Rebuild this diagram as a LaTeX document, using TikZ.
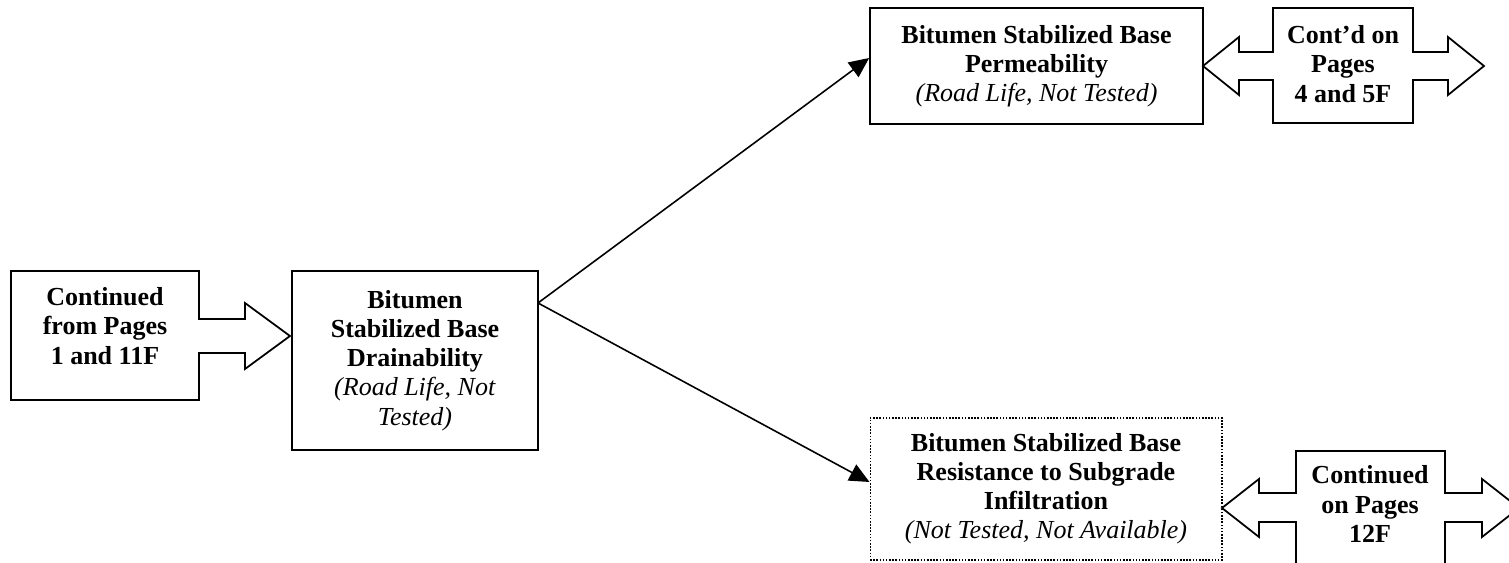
\documentclass[tikz,border=0pt]{standalone}
\usepackage{fontspec}
\setmainfont{Liberation Serif}
\usetikzlibrary{arrows.meta}
\begin{document}
\begin{tikzpicture}[x=0.02cm,y=-0.02cm,
  txt/.style={align=center,inner sep=0pt,font=\fontsize{14.8pt}{16.6pt}\selectfont\bfseries},
  box/.style={txt,draw,line width=1pt,rectangle},
  dotbox/.style={txt,draw,line width=0.6pt,dash pattern=on 0.9pt off 0.9pt},
  outline/.style={draw,line width=1pt,line join=miter},
  link/.style={line width=0.9pt,-{Triangle[length=0.4cm,width=0.36cm]}}]
\useasboundingbox (0,0) rectangle (1509,563);
\clip (0,0) rectangle (1509,563);

% incoming page reference: box with a right-pointing arrow
\draw[outline] (11,271) -- (199,271) -- (199,319) -- (245,319) -- (245,303)
  -- (290,336) -- (245,369) -- (245,353) -- (199,353) -- (199,400)
  -- (11,400) -- cycle;
\node[txt] (fromp) at (105,326) {Continued\\from Pages\\1 and 11F};

% main boxes
\node[box,minimum width=4.92cm,minimum height=3.58cm] (drain) at (415,360.5)
  {Bitumen\\Stabilized Base\\Drainability\\\textmd{\itshape (Road Life, Not}\\\textmd{\itshape Tested)}};
\node[box,minimum width=6.66cm,minimum height=2.32cm] (perm) at (1036.5,66)
  {Bitumen Stabilized Base\\Permeability\\\textmd{\itshape (Road Life, Not Tested)}};
\node[dotbox,minimum width=7.04cm,minimum height=2.84cm] (infil) at (1046,489)
  {Bitumen Stabilized Base\\Resistance to Subgrade\\Infiltration\\\textmd{\itshape (Not Tested, Not Available)}};

% outgoing page references: boxes with arrows both ways
\draw[outline] (1273,8) -- (1413,8) -- (1413,52) -- (1448,52) -- (1448,37)
  -- (1484,66) -- (1448,95) -- (1448,80) -- (1413,80) -- (1413,123)
  -- (1273,123) -- (1273,80) -- (1239,80) -- (1239,95) -- (1203,66)
  -- (1239,37) -- (1239,52) -- (1273,52) -- cycle;
\node[txt] (toa) at (1343,64) {Cont’d on\\Pages\\4 and 5F};

\draw[outline] (1296,451) -- (1445,451) -- (1445,493) -- (1482,493) -- (1482,479)
  -- (1519,508) -- (1482,537) -- (1482,522) -- (1445,522) -- (1445,600)
  -- (1296,600) -- (1296,522) -- (1259,522) -- (1259,537) -- (1222,508)
  -- (1259,479) -- (1259,493) -- (1296,493) -- cycle;
\node[txt] (tob) at (1370,504) {Continued\\on Pages\\12F};

% connectors
\coordinate (fork) at (538,303);
\draw[link] (fork) -- ([yshift=0.16cm]perm.west);
\draw[link] (fork) -- ([yshift=0.14cm]infil.west);
\end{tikzpicture}
\end{document}
